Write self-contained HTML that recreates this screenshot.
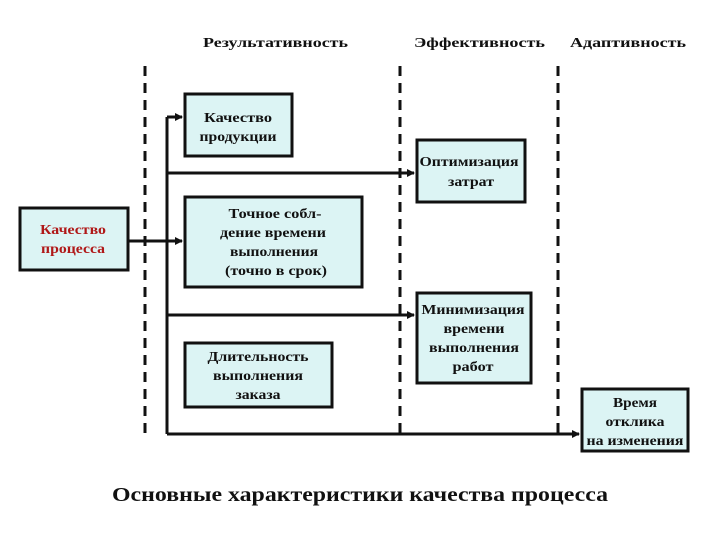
<!DOCTYPE html>
<html><head><meta charset="utf-8"><style>
body{margin:0;width:720px;height:540px;background:#fff;overflow:hidden}
svg text{font-family:"Liberation Serif",serif;font-weight:bold;fill:#111}
</style></head><body>
<svg width="720" height="540" viewBox="0 0 720 540">
<defs><marker id="a" markerWidth="8" markerHeight="8" refX="7" refY="4" orient="auto" markerUnits="userSpaceOnUse"><path d="M0,0 L8,4 L0,8 z" fill="#111"/></marker></defs>
<g font-size="14" lengthAdjust="spacingAndGlyphs">
<text x="203" y="47" textLength="145" lengthAdjust="spacingAndGlyphs">Результативность</text>
<text x="414" y="47" textLength="131" lengthAdjust="spacingAndGlyphs">Эффективность</text>
<text x="570" y="47" textLength="116" lengthAdjust="spacingAndGlyphs">Адаптивность</text>
</g>
<g stroke="#111" stroke-width="3" stroke-dasharray="10,7">
<line x1="145" y1="66" x2="145" y2="436"/>
<line x1="400" y1="66" x2="400" y2="436"/>
<line x1="558" y1="66" x2="558" y2="436"/>
</g>
<g stroke="#111" stroke-width="3" fill="none">
<line x1="167" y1="117" x2="167" y2="434"/>
<line x1="167" y1="117" x2="182" y2="117" marker-end="url(#a)"/>
<line x1="128" y1="241" x2="182" y2="241" marker-end="url(#a)"/>
<line x1="167" y1="173" x2="414" y2="173" marker-end="url(#a)"/>
<line x1="167" y1="315" x2="414" y2="315" marker-end="url(#a)"/>
<line x1="167" y1="434" x2="579" y2="434" marker-end="url(#a)"/>
</g>
<g fill="#dcf4f4" stroke="#111" stroke-width="3">
<rect x="185" y="94" width="107" height="62"/>
<rect x="20" y="208" width="108" height="62"/>
<rect x="185" y="197" width="177" height="90"/>
<rect x="185" y="343" width="147" height="64"/>
<rect x="417" y="140" width="108" height="62"/>
<rect x="417" y="293" width="114" height="90"/>
<rect x="582" y="389" width="106" height="62"/>
</g>
<g font-size="14" text-anchor="middle">
<text x="238" y="122" textLength="68" lengthAdjust="spacingAndGlyphs">Качество</text><text x="238" y="141" textLength="77" lengthAdjust="spacingAndGlyphs">продукции</text>
<text x="73" y="234" textLength="66" lengthAdjust="spacingAndGlyphs" style="fill:#b01818">Качество</text><text x="73" y="253" textLength="64" lengthAdjust="spacingAndGlyphs" style="fill:#b01818">процесса</text>
<text x="275" y="218" textLength="93" lengthAdjust="spacingAndGlyphs">Точное собл-</text><text x="273" y="237" textLength="106" lengthAdjust="spacingAndGlyphs">дение времени</text><text x="274" y="256" textLength="88" lengthAdjust="spacingAndGlyphs">выполнения</text><text x="276" y="275" textLength="102" lengthAdjust="spacingAndGlyphs">(точно в срок)</text>
<text x="258" y="361" textLength="101" lengthAdjust="spacingAndGlyphs">Длительность</text><text x="258" y="380" textLength="90" lengthAdjust="spacingAndGlyphs">выполнения</text><text x="258" y="399" textLength="45" lengthAdjust="spacingAndGlyphs">заказа</text>
<text x="469" y="166" textLength="99" lengthAdjust="spacingAndGlyphs">Оптимизация</text><text x="471" y="186" textLength="46" lengthAdjust="spacingAndGlyphs">затрат</text>
<text x="473" y="314" textLength="103" lengthAdjust="spacingAndGlyphs">Минимизация</text><text x="474" y="333" textLength="61" lengthAdjust="spacingAndGlyphs">времени</text><text x="474" y="352" textLength="90" lengthAdjust="spacingAndGlyphs">выполнения</text><text x="473" y="371" textLength="41" lengthAdjust="spacingAndGlyphs">работ</text>
<text x="635" y="407" textLength="44" lengthAdjust="spacingAndGlyphs">Время</text><text x="635" y="426" textLength="59" lengthAdjust="spacingAndGlyphs">отклика</text><text x="635" y="445" textLength="97" lengthAdjust="spacingAndGlyphs">на изменения</text>
</g>
<text x="112" y="501" font-size="20" textLength="496" lengthAdjust="spacingAndGlyphs">Основные характеристики качества процесса</text>
</svg>
</body></html>
